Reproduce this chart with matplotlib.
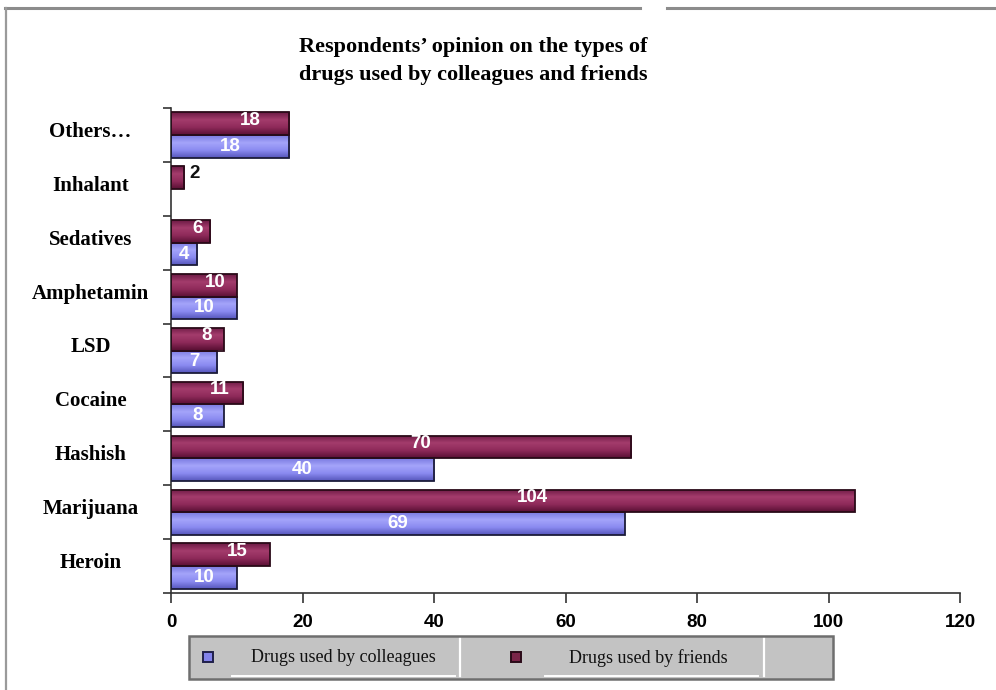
import numpy as np
import matplotlib
matplotlib.use("Agg")
import matplotlib.pyplot as plt
from matplotlib.patches import Rectangle
from matplotlib.lines import Line2D
from matplotlib.colors import LinearSegmentedColormap
from matplotlib.transforms import ScaledTranslation

# Drug categories, bottom to top
categories = ["Heroin", "Marijuana", "Hashish", "Cocaine", "LSD",
              "Amphetamin", "Sedatives", "Inhalant", "Others\u2026"]
colleagues = [10, 69, 40, 8, 7, 10, 4, 0, 18]
friends = [15, 104, 70, 11, 8, 10, 6, 2, 18]
xticks = [0, 20, 40, 60, 80, 100, 120]
series_names = ["Drugs used by colleagues", "Drugs used by friends"]
title = "Respondents\u2019 opinion on the types of\ndrugs used by colleagues and friends"

serif = "Liberation Serif"
sans = "Liberation Sans"

W, H = 996, 690
fig = plt.figure(figsize=(W / 100, H / 100), dpi=100)
fig.patch.set_facecolor("white")

ax = fig.add_axes([171 / W, 1 - 593 / H, (960 - 171) / W, (593 - 108) / H])
ax.set_facecolor("white")

cmap_col = LinearSegmentedColormap.from_list(
    "col", ["#5656bc", "#8a8af0", "#a4a4fa", "#7a7ae0"])
cmap_fr = LinearSegmentedColormap.from_list(
    "fr", ["#5a1034", "#8e2a5a", "#a43c6c", "#6c1a44"])

y = np.arange(len(categories))
bh = 0.42
bars_c = ax.barh(y - bh / 2, colleagues, height=bh, facecolor="none",
                 edgecolor="#1c1c3a", linewidth=1.3, zorder=3)
bars_f = ax.barh(y + bh / 2, friends, height=bh, facecolor="none",
                 edgecolor="#2a0a18", linewidth=1.3, zorder=3)

# shaded fill for each bar, clipped to the bar outline
grad = np.linspace(0, 1, 64).reshape(-1, 1)
for bars, cmap in ((bars_c, cmap_col), (bars_f, cmap_fr)):
    for b in bars:
        if b.get_width() <= 0:
            b.set_visible(False)
            continue
        x0, y0 = b.get_x(), b.get_y()
        im = ax.imshow(grad, cmap=cmap, aspect="auto", origin="lower",
                       extent=[x0, x0 + b.get_width(), y0, y0 + b.get_height()],
                       zorder=2, interpolation="bilinear")
        im.set_clip_path(b)

ax.set_xlim(0, 120)
ax.set_ylim(-0.5, len(categories) - 0.5)

# value labels
lab_kw = dict(fontfamily=sans, fontweight="bold", fontsize=13.5)
for yi, v in zip(y, colleagues):
    if v > 0:
        ax.text(v / 2, yi - bh / 2, str(v), ha="center", va="center",
                color="white", zorder=5, **lab_kw)
for yi, v in zip(y, friends):
    if v >= 4:
        ax.text(v / 2 + min(0.17 * v, 3.0), yi + bh / 2 + 0.06, str(v),
                ha="center", va="center", color="white", zorder=5, **lab_kw)
    else:
        ax.text(v + 0.8, yi + bh / 2 + 0.07, str(v), ha="left", va="center",
                color="#111111", zorder=5, **lab_kw)

# axes styling
for s in ("top", "right"):
    ax.spines[s].set_visible(False)
for s in ("left", "bottom"):
    ax.spines[s].set_color("#333333")
    ax.spines[s].set_linewidth(1.2)

ax.set_xticks(xticks)
ax.set_xticklabels([str(t) for t in xticks], fontfamily=sans,
                   fontweight="bold", fontsize=13.5)
ax.tick_params(axis="x", direction="out", length=7, width=1.2,
               color="#333333", pad=8)

ax.set_yticks(y)
ax.set_yticklabels(categories, fontfamily=serif, fontweight="bold",
                   fontsize=15)
ax.set_yticks(np.arange(-0.5, len(categories), 1.0), minor=True)
ax.tick_params(axis="y", which="major", length=0, pad=58)
ax.tick_params(axis="y", which="minor", direction="out", length=6,
               width=1.2, color="#333333")
shift = ScaledTranslation(0, 4 / 72, fig.dpi_scale_trans)
for lbl in ax.get_yticklabels():
    lbl.set_horizontalalignment("center")
    lbl.set_transform(lbl.get_transform() + shift)

# title
fig.text(473 / W, 1 - 61 / H, title, ha="center", va="center",
         fontfamily=serif, fontweight="bold", fontsize=16,
         linespacing=1.55)

# legend box
lx0, lx1, ly0, ly1 = 189, 833, 636, 679
fig.add_artist(Rectangle((lx0 / W, 1 - ly1 / H), (lx1 - lx0) / W,
                         (ly1 - ly0) / H, transform=fig.transFigure,
                         facecolor="#c3c3c3", edgecolor="#6e6e6e",
                         linewidth=1.8, zorder=1))
for sx in (460, 764):
    fig.add_artist(Line2D([sx / W, sx / W], [1 - (ly1 - 3) / H, 1 - (ly0 + 3) / H],
                          transform=fig.transFigure, color="white", lw=1.6))
for (a, b) in ((232, 455), (545, 758)):
    fig.add_artist(Line2D([a / W, b / W], [1 - (ly1 - 3) / H] * 2,
                          transform=fig.transFigure, color="white", lw=1.4))

handles = [(208, "#8282ea", "#20204a"), (516, "#7a2448", "#2a0a18")]
text_x = [343, 648]
for (mx, fc, ec), tx, name in zip(handles, text_x, series_names):
    fig.add_artist(Rectangle(((mx - 5) / W, 1 - (657 + 5) / H), 10 / W, 10 / H,
                             transform=fig.transFigure, facecolor=fc,
                             edgecolor=ec, linewidth=1.4, zorder=3))
    fig.text(tx / W, 1 - 658 / H, name, ha="center", va="center",
             fontfamily=serif, fontsize=13, color="#111111")

# outer frame
fc_line = "#8c8c8c"
fig.add_artist(Line2D([5 / W, 640 / W], [1 - 8 / H] * 2,
                      transform=fig.transFigure, color=fc_line, lw=2.2))
fig.add_artist(Line2D([667 / W, 1.0], [1 - 8 / H] * 2,
                      transform=fig.transFigure, color=fc_line, lw=2.2))
fig.add_artist(Line2D([5.5 / W] * 2, [0.0, 1 - 8 / H],
                      transform=fig.transFigure, color="#9a9a9a", lw=1.6))

fig.savefig("out.png", dpi=100, facecolor="white")
